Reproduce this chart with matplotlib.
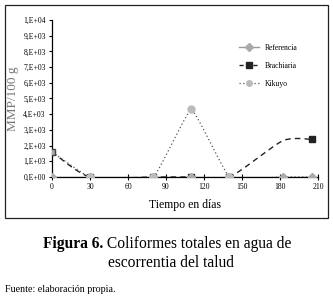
import numpy as np
import matplotlib
matplotlib.use("Agg")
import matplotlib.pyplot as plt
from matplotlib.patches import Rectangle

plt.rcParams['font.family'] = ['Liberation Serif', 'DejaVu Serif']

days = [0, 30, 80, 110, 140, 182, 205]
referencia = [0, 0, 0, 0, 0, 0, 0]
brachiaria = [1600, 0, 0, 0, 0, 2300, 2400]
kikuyo = [1600, 0, 0, 4300, 0, 0, 0]

y_ticks = [i * 1000 for i in range(11)]
y_labels = ["0,E+00"] + [f"{i},E+03" for i in range(1, 10)] + ["1,E+04"]
x_ticks = [0, 30, 60, 90, 120, 150, 180, 210]


def smooth(x, y, k=0.5, n=20):
    # smoothed line through the points (cardinal spline, k = tangent scale)
    x = np.asarray(x, float)
    y = np.asarray(y, float)
    px = np.concatenate([[x[0]], x, [x[-1]]])
    py = np.concatenate([[y[0]], y, [y[-1]]])
    xs, ys = [], []
    t = np.linspace(0, 1, n)
    h00 = 2 * t ** 3 - 3 * t ** 2 + 1
    h10 = t ** 3 - 2 * t ** 2 + t
    h01 = -2 * t ** 3 + 3 * t ** 2
    h11 = t ** 3 - t ** 2
    for i in range(1, len(px) - 2):
        for p, out in ((px, xs), (py, ys)):
            m1 = k * (p[i + 1] - p[i - 1])
            m2 = k * (p[i + 2] - p[i])
            out.extend(h00 * p[i] + h10 * m1 + h01 * p[i + 1] + h11 * m2)
    return xs, ys


fig = plt.figure(figsize=(3.33, 2.99), dpi=100)
fig.patches.append(Rectangle((5 / 333, 1 - 218 / 299), 323 / 333, 213 / 299,
                             transform=fig.transFigure, fill=False,
                             edgecolor="#222222", linewidth=0.9))

ax = fig.add_axes([52 / 333, 1 - 177 / 299, 266 / 333, 157 / 299])

# lines
sx, sy = smooth(days, referencia)
ax.plot(sx, sy, color="#999999", linewidth=1.0, zorder=2)
sx, sy = smooth(days, brachiaria, k=0.35)
ax.plot(sx, sy, color="#222222", linewidth=1.0, linestyle=(0, (4, 3)), zorder=3)
sx, sy = smooth(days, kikuyo, k=0.15)
ax.plot(sx, sy, color="#555555", linewidth=0.9, linestyle=(0, (1, 2)), zorder=3)

# markers
ax.plot(days, brachiaria, linestyle="none", marker="s", markersize=5,
        color="#222222", markevery=[1, 2, 3, 4, 6], zorder=4)
ax.plot(days[:1], brachiaria[:1], linestyle="none", marker="s", markersize=5,
        markerfacecolor="#aaaaaa", markeredgecolor="#444444", zorder=4)
ax.plot(days, referencia, linestyle="none", marker="D", markersize=4,
        color="#aaaaaa", zorder=5)
ax.plot(days[1:5], kikuyo[1:5], linestyle="none", marker="o", markersize=5,
        color="#bbbbbb", zorder=6)

# legend handles
h1, = ax.plot([], [], color="#999999", linewidth=1.0, marker="D",
              markersize=4, markerfacecolor="#aaaaaa", markeredgecolor="#aaaaaa")
h2, = ax.plot([], [], color="#222222", linewidth=1.0, linestyle=(0, (3, 2)),
              marker="s", markersize=4)
h3, = ax.plot([], [], color="#555555", linewidth=0.9, linestyle=(0, (1, 2)),
              marker="o", markersize=4, markerfacecolor="#bbbbbb",
              markeredgecolor="#bbbbbb")
fig.legend([h1, h2, h3], ["Referencia", "Brachiaria", "Kikuyo"],
           loc="upper left", bbox_to_anchor=(232 / 333, 1 - 37 / 299),
           frameon=False, fontsize=5.5, handlelength=2.6, labelspacing=1.3,
           handletextpad=0.8)

ax.set_xlim(0, 210)
ax.set_ylim(0, 10000)
ax.set_xticks(x_ticks)
ax.set_xticklabels([str(v) for v in x_ticks], fontsize=5.5)
ax.set_yticks(y_ticks)
ax.set_yticklabels(y_labels, fontsize=5.5)
ax.tick_params(axis="both", length=2.5, width=0.8, pad=2)
ax.tick_params(axis="x", direction="inout", length=4)
for s in ["top", "right"]:
    ax.spines[s].set_visible(False)
for s in ["left", "bottom"]:
    ax.spines[s].set_linewidth(0.9)
ax.spines["bottom"].set_zorder(3)
ax.patch.set_alpha(0)

ax.set_ylabel("MMP/100 g", fontsize=9.5, color="#777777", labelpad=3)
ax.set_xlabel("Tiempo en días", fontsize=8.5, labelpad=6)

# caption: bold label followed by regular text, centred as one line
renderer = fig.canvas.get_renderer()
t1 = fig.text(0, 1 - 244 / 299, "Figura 6.", fontsize=11.2,
              fontweight="bold", va="center", ha="left")
t2 = fig.text(0, 1 - 244 / 299, " Coliformes totales en agua de",
              fontsize=11.2, va="center", ha="left")
w1 = t1.get_window_extent(renderer).width
w2 = t2.get_window_extent(renderer).width
x0 = 167 - (w1 + w2) / 2
t1.set_x(x0 / 333)
t2.set_x((x0 + w1) / 333)
fig.text(171 / 333, 1 - 263 / 299, "escorrentia del talud", fontsize=11.2,
         va="center", ha="center")
fig.text(5 / 333, 1 - 290 / 299, "Fuente: elaboración propia.", fontsize=7.2,
         va="center", ha="left")

fig.savefig("out.png", dpi=100)
